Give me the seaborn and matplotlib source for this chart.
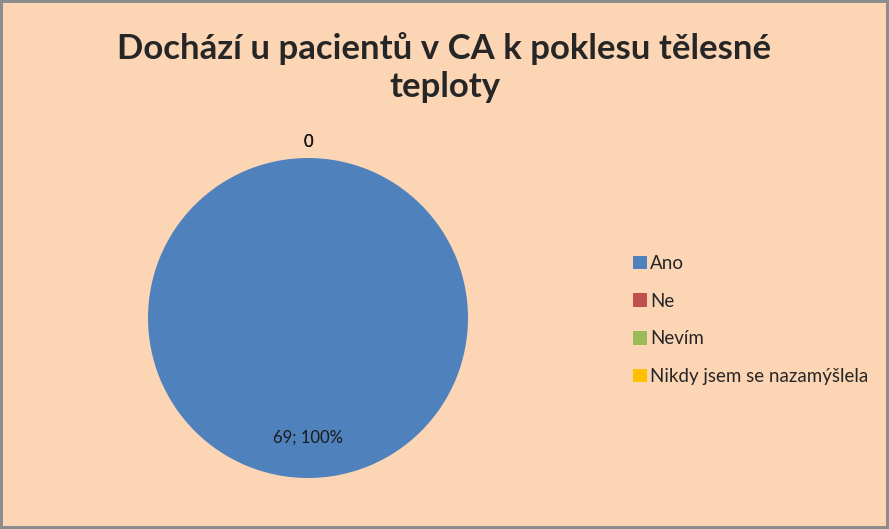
import numpy as np
import matplotlib
matplotlib.use("Agg")
import matplotlib.pyplot as plt
import seaborn as sns

# data
labels = ["Ano", "Ne", "Nevím", "Nikdy jsem se nazamýšlela"]
counts = [69, 0, 0, 0]
colors = ["#4F81BD", "#C0504D", "#9BBB59", "#FFC000"]
title = "Dochází u pacientů v CA k poklesu tělesné\nteploty"

sns.set_style("white")
plt.rcParams["font.family"] = ["Lato", "DejaVu Sans"]

bg = "#FCD5B5"
fig = plt.figure(figsize=(8.89, 5.29), dpi=100, facecolor=bg)
fig.patch.set_edgecolor("#8C8C8C")
fig.patch.set_linewidth(3)

ax = fig.add_axes([148/889, 51/529, 320/889, 320/529])
ax.set_facecolor(bg)
wedges, _ = ax.pie(counts, colors=colors, startangle=90, counterclock=False,
                   wedgeprops=dict(linewidth=0))
ax.set_aspect("equal")
ax.set_xlim(-1, 1)
ax.set_ylim(-1, 1)

total = sum(counts)
for w, c in zip(wedges, counts):
    ang = np.deg2rad((w.theta1 + w.theta2) / 2)
    if c > 0:
        r = 0.75
        txt = f"{c}; {round(100*c/total)}%"
    else:
        r = 1.1
        txt = f"{c}"
    ax.text(r*np.cos(ang), r*np.sin(ang), txt, ha="center", va="center",
            fontsize=12, color="#1a1a1a", clip_on=False)

fig.text(0.5, 0.872, title, ha="center", va="center", fontsize=25,
         fontweight="bold", linespacing=1.25)

fig.legend(wedges, labels, loc="center left", bbox_to_anchor=(0.693, 0.395),
           frameon=False, fontsize=13.5, handlelength=0.75, handleheight=0.75,
           handletextpad=0.15, labelspacing=1.1)

fig.savefig("out.png", dpi=100, facecolor=bg, edgecolor=fig.patch.get_edgecolor())
